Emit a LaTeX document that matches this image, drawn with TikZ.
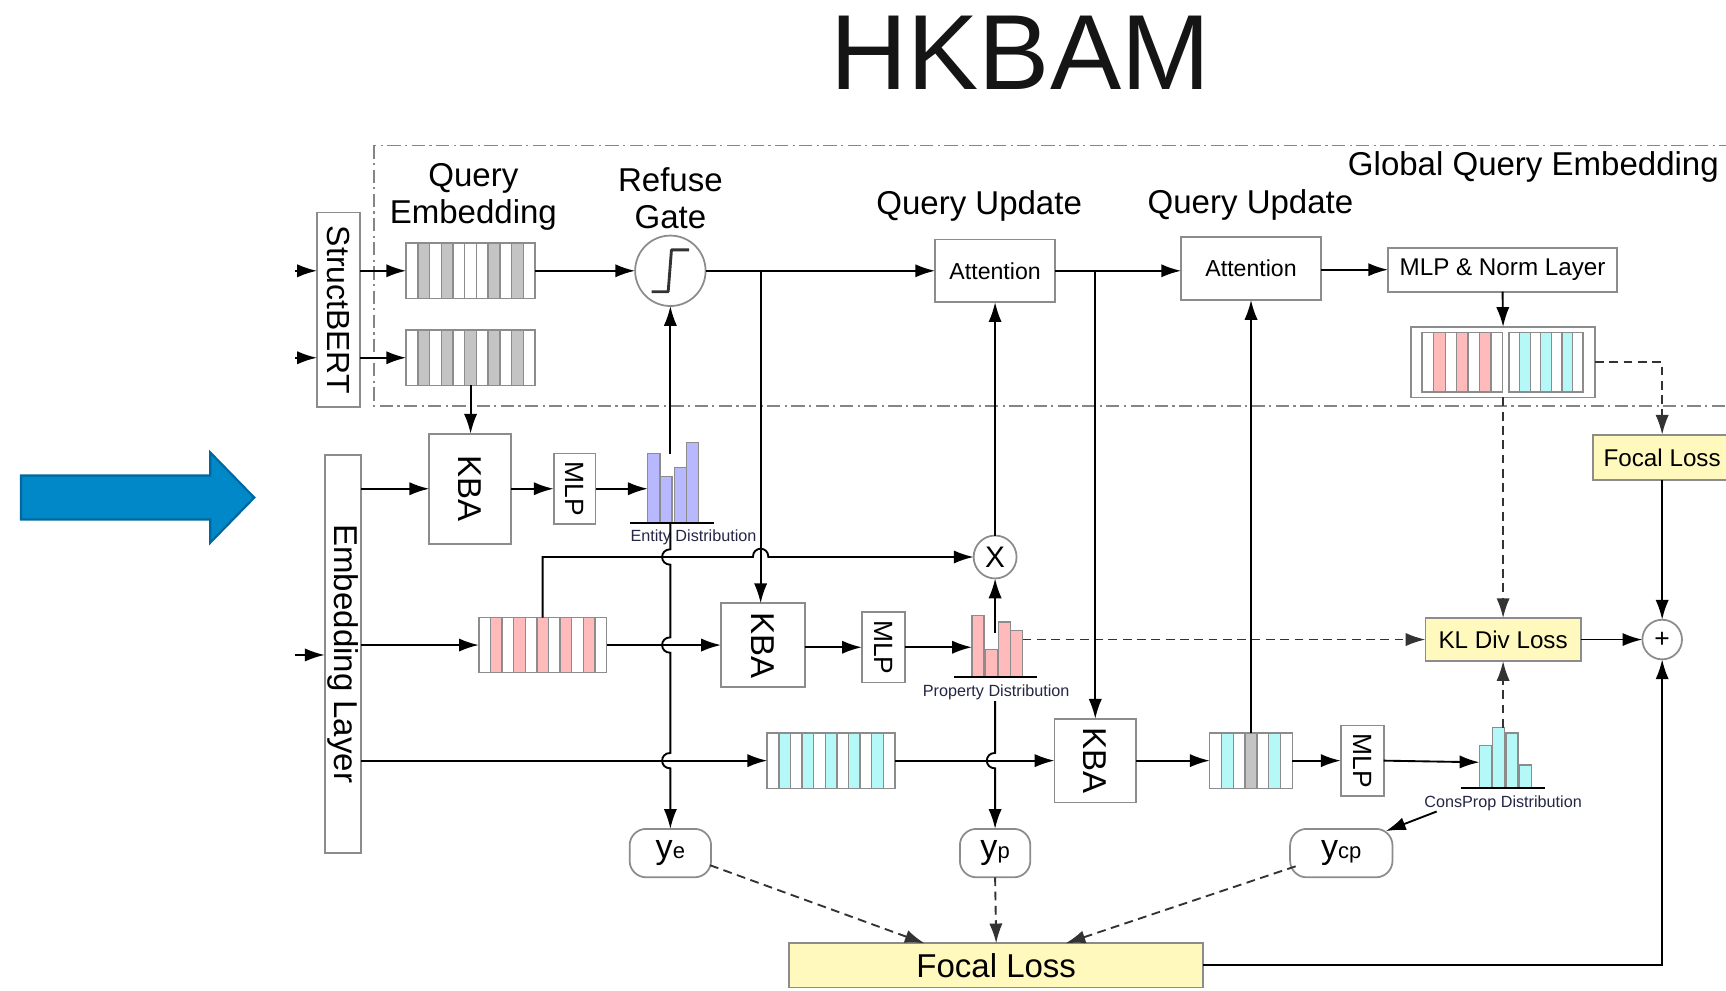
\documentclass[tikz,border=0pt]{standalone}
\usepackage{fontspec}
\setmainfont{Liberation Sans}
\usetikzlibrary{arrows.meta, calc, positioning}

\definecolor{boxgray}{HTML}{8C8C8C}
\definecolor{framegray}{HTML}{858585}
\definecolor{dashgray}{HTML}{333333}
\definecolor{cellgray}{HTML}{C4C4C4}
\definecolor{cellpink}{HTML}{FFBBBB}
\definecolor{cellcyan}{HTML}{B4F8F8}
\definecolor{barblue}{HTML}{B8B8FF}
\definecolor{lossyellow}{HTML}{FFF9BE}
\definecolor{arrowblue}{HTML}{0088C8}
\definecolor{arrowedge}{HTML}{0068A0}
\definecolor{distnavy}{HTML}{252545}
\definecolor{titleblack}{HTML}{151515}

\newcommand{\fsz}[1]{\fontsize{#1}{#1}\selectfont}
% one row of embedding cells inside a node
\newcommand{\cellrow}[4]{%
  \foreach \c [count=\i from 0] in {#4}
    \filldraw[draw=boxgray, fill=\c, line width=1.2pt] ($(#1.north west)+(\i*#2,0)$) rectangle +(#2,#3);}
% four bars of a distribution, standing on the node's bottom edge
\newcommand{\histbars}[3]{%
  \foreach \bx/\bh in {#3}
    \filldraw[draw=boxgray, fill=#2, line width=1.2pt] ($(#1.south west)+(\bx,0)$) rectangle +(11,-\bh);}
\newcommand{\yout}[1]{{\fsz{31}y}{\fsz{20}#1}}

\tikzset{
  >={Latex[length=18pt,width=12pt]},
  box/.style={draw=boxgray, line width=1.6pt, fill=white, inner sep=0pt, outer sep=0pt},
  emb/.style={box},
  lossbox/.style={box, fill=lossyellow},
  ring/.style={circle, box},
  hist/.style={inner sep=0pt, outer sep=0pt},
  lbl/.style={font=\fsz{30}},
  dist/.style={font=\fsz{14.7}, text=distnavy, inner sep=0pt},
  ybox/.style={box, rounded corners=15pt, minimum height=44},
  frame/.style={draw=framegray, line width=1.4pt, dash pattern=on 12pt off 4pt on 2pt off 4pt},
  lossdash/.style={draw=dashgray, dash pattern=on 8pt off 5pt},
  floor/.style={line width=1.8pt}
}

\begin{document}
\begin{tikzpicture}[x=1pt, y=-1pt, line width=1.7pt]
\useasboundingbox (0,0) rectangle (1568,900);
\clip (0,0) rectangle (1568,900);

% title and pointer
\node[font=\fontsize{97}{100}\selectfont, text=titleblack] (title) at (927,48) {HKBAM};
\filldraw[fill=arrowblue, draw=arrowedge, line width=2pt] (19,432) -- (191,432) -- (191,411) -- (231,452) -- (191,493) -- (191,472) -- (19,472) -- cycle;

% global query embedding frame
\draw[frame] (340,132) rectangle (1600,369);
\node[lbl] (glbl) at (1393,152) {Global Query Embedding};

% StructBERT and query embeddings
\node[box, minimum width=39, minimum height=177, font=\fsz{29}] (sbert) at (307.5,281.5) {\rotatebox{-90}{StructBERT}};
\coordinate (in1) at (268,246);
\coordinate (in2) at (268,325);
\draw[->] (in1) -- (in1 -| sbert.west);
\draw[->] (in2) -- (in2 -| sbert.west);

\node[emb, minimum width=117, minimum height=50] (qe1) at (427.5,246) {};
\cellrow{qe1}{10.636}{50}{white,cellgray,white,cellgray,white,white,white,cellgray,white,cellgray,white}
\node[emb, minimum width=117, minimum height=50] (qe2) at (427.5,325) {};
\cellrow{qe2}{10.636}{50}{white,cellgray,white,cellgray,white,cellgray,white,cellgray,white,cellgray,white}
\node[lbl, align=center, font=\fontsize{30}{33}\selectfont] (qel) at (430,179) {Query\\Embedding};
\draw[->] (sbert.east |- qe1.west) -- (qe1.west);
\draw[->] (sbert.east |- qe2.west) -- (qe2.west);

% refuse gate
\node[ring, minimum size=64] (gate) at (609,246) {};
\draw[line width=2.6pt, line join=round, draw=dashgray] ($(gate.center)+(-17,19)$) -- ++(15,0) -- ++(3,-38) -- ++(16,0);
\node[lbl, align=center, font=\fontsize{30}{33}\selectfont] (gatel) at (609,180) {Refuse\\Gate};
\draw[->] (qe1.east) -- (gate.west);

% query update
\node[box, minimum width=109, minimum height=57, font=\fsz{21}] (att1) at (904,246) {Attention};
\node[lbl] (qu1) at (889.5,187) {Query Update};
\node[box, minimum width=127, minimum height=57, font=\fsz{21}] (att2) at (1136.5,244) {Attention};
\node[lbl] (qu2) at (1136,186) {Query Update};
\node[box, minimum width=208, minimum height=40, font=\fsz{22}] (mlpn) at (1365,245) {MLP \& Norm Layer};
\coordinate (br1) at (691,246);
\coordinate (br2) at (995,245);
\draw[->] (gate.east) -- (att1.west);
\draw[->] (att1.east) -- (att1.east -| att2.west);
\draw[->] (att2.east |- mlpn.west) -- (mlpn.west);

% global query embedding
\node[box, minimum width=167, minimum height=64] (gqe) at (1365.5,329) {};
\node[emb, minimum width=73, minimum height=54, anchor=north west] (gqp) at (1292,302) {};
\cellrow{gqp}{10.43}{54}{white,cellpink,white,cellpink,white,cellpink,white}
\node[emb, minimum width=67, minimum height=54, anchor=north west] (gqc) at (1371,302) {};
\cellrow{gqc}{9.571}{54}{white,cellcyan,white,cellcyan,white,cellcyan,white}
\draw[->] (mlpn.south) -- (gqe.north);

% losses
\node[lossbox, minimum width=126, minimum height=41, font=\fsz{22}] (focal2) at (1510,415.5) {Focal Loss};
\node[lossbox, minimum width=141, minimum height=39, font=\fsz{22}] (kl) at (1365.5,581) {KL Div Loss};
\node[ring, minimum size=36, font=\fsz{24}] (plus) at (1510,581) {+};
\node[lossbox, minimum width=376, minimum height=40, font=\fsz{30}] (focal1) at (905,877) {Focal Loss};
\draw[lossdash, ->] (gqe.east) -| (focal2.north);
\draw[lossdash, ->] (gqe.south) -- (kl.north);
\draw[->] (focal2.south) -- (plus.north);
\draw[->] (kl.east) -- (plus.west);
\draw[->] (focal1.east) -| (plus.south);

% embedding layer
\node[box, minimum width=33, minimum height=362, font=\fsz{30}] (emb) at (311.5,594) {\rotatebox{-90}{Embedding Layer}};
\coordinate (in3) at (268,595);
\draw[->] (in3) -- (in3 -| emb.west);

% entity branch
\node[box, minimum width=74, minimum height=100, font=\fsz{30}] (kba1) at (427,444) {\rotatebox{-90}{KBA}};
\node[box, minimum width=38, minimum height=64, font=\fsz{24}] (mlp1) at (522,444) {\rotatebox{-90}{MLP}};
\draw[->] (emb.east |- kba1.west) -- (kba1.west);
\draw[->] (qe2.south) -- (qe2.south |- kba1.north);
\draw[->] (kba1.east) -- (mlp1.west);
\node[hist, minimum width=46, minimum height=73] (ent) at (611.5,438.5) {};
\histbars{ent}{barblue}{0/63,11/42,24/50,35/73}
\draw[floor] ($(ent.south west)+(-16,0)$) -- ++(76,0);
\node[dist] (entl) at (630,488) {Entity Distribution};
\draw[->] (mlp1.east) -- (mlp1.east -| ent.west);
\coordinate (entt) at (609,412);
\coordinate (entb) at (609,476);
\draw[->] (entt) -- (gate.south);

% property branch
\node[emb, minimum width=116, minimum height=50] (pinkemb) at (493,586) {};
\cellrow{pinkemb}{10.545}{50}{white,cellpink,white,cellpink,white,cellpink,white,cellpink,white,cellpink,white}
\draw[->] (emb.east |- pinkemb.west) -- (pinkemb.west);
\node[box, minimum width=76, minimum height=76, font=\fsz{30}] (kba2) at (693,586) {\rotatebox{-90}{KBA}};
\node[box, minimum width=39, minimum height=64, font=\fsz{24}] (mlp2) at (802.5,588) {\rotatebox{-90}{MLP}};
\draw[->] (br1) -- (br1 |- kba2.north);
\draw[->] (pinkemb.east) -- (pinkemb.east -| kba2.west);
\draw[->] (kba2.east |- mlp2.west) -- (mlp2.west);
\node[hist, minimum width=46, minimum height=56] (prop) at (906,587) {};
\histbars{prop}{cellpink}{0/56,12/25,24/50,35/42}
\draw[floor] ($(prop.south west)+(-16,0)$) -- ++(75,0);
\node[dist] (propl) at (905,629) {Property Distribution};
\draw[->] (mlp2.east) -- (mlp2.east -| prop.west);
\node[ring, minimum size=39, font=\fsz{27}] (xm) at (904,506) {X};
\draw[->] ($(xm.south |- prop.north)+(0,16)$) -- (xm.south);
\draw[->] (xm.north) -- (xm.north |- att1.south);
\draw[->] (pinkemb.north) |- ($(br1 |- xm.west)+(-7,0)$) .. controls +(0,-10) and +(0,-10) .. ++(14,0) -- (xm.west);
\draw[lossdash, ->] (prop.east |- kl.west) -- (kl.west);
\coordinate (propb) at ($(xm.south |- prop.south)+(0,22)$);

% consprop branch
\node[emb, minimum width=116, minimum height=50] (cyanemb) at (755,691) {};
\cellrow{cyanemb}{10.545}{50}{white,cellcyan,white,cellcyan,white,cellcyan,white,cellcyan,white,cellcyan,white}
\draw[->] (emb.east |- cyanemb.west) -- (cyanemb.west);
\node[box, minimum width=74, minimum height=76, font=\fsz{30}] (kba3) at (995,691) {\rotatebox{-90}{KBA}};
\draw[->] (br2) -- (br2 |- kba3.north);
\draw[->] (cyanemb.east) -- (kba3.west);
\node[emb, minimum width=75, minimum height=50] (se) at (1136.5,691) {};
\cellrow{se}{10.714}{50}{white,cellcyan,white,cellgray,white,cellcyan,white}
\draw[->] (kba3.east) -- (se.west);
\draw[->] (se.north) -- (se.north |- att2.south);
\node[box, minimum width=39, minimum height=64, font=\fsz{24}] (mlp3) at (1237.5,691) {\rotatebox{-90}{MLP}};
\draw[->] (se.east) -- (mlp3.west);
\node[hist, minimum width=47, minimum height=55] (cons) at (1367.5,688.5) {};
\histbars{cons}{cellcyan}{0/39,12/55,24/50,36/21}
\draw[floor] ($(cons.south west)+(-17,0)$) -- ++(77,0);
\node[dist] (consl) at (1365.5,729.5) {ConsProp Distribution};
\draw[->] (mlp3.east) -- ($(cons.west)+(0,4)$);
\draw[lossdash, ->] (kl.south |- cons.north) -- (kl.south);

% outputs
\node[ybox, minimum width=74] (ye) at (609,775) {\yout{e}};
\node[ybox, minimum width=64] (yp) at (904,775) {\yout{p}};
\node[ybox, minimum width=93] (ycp) at (1218.5,775) {\yout{cp}};
\draw[->] (entb) -- ($(entb |- xm.west)+(0,-7)$) .. controls +(-10,0) and +(-10,0) .. ++(0,14)
  -- ($(entb |- pinkemb.east)+(0,-7)$) .. controls +(-10,0) and +(-10,0) .. ++(0,14)
  -- ($(entb |- cyanemb.west)+(0,-7)$) .. controls +(-10,0) and +(-10,0) .. ++(0,14)
  -- (entb |- ye.north);
\draw[->] (propb) -- ($(propb |- cyanemb.west)+(0,-7)$) .. controls +(-10,0) and +(-10,0) .. ++(0,14)
  -- (propb |- yp.north);
\draw[->] ($(consl.south west)+(12,0)$) -- ($(ycp.north east)+(-6,2)$);
\draw[lossdash, ->] ($(ye.east)+(-1,11)$) -- ($(focal1.north)+(-65,0)$);
\draw[lossdash, ->] (yp.south) -- (focal1.north);
\draw[lossdash, ->] ($(ycp.west)+(5,12)$) -- ($(focal1.north)+(63,0)$);
\end{tikzpicture}
\end{document}
